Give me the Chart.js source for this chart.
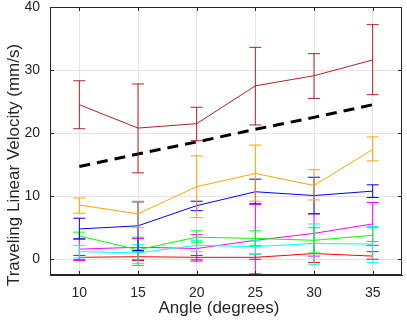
<!DOCTYPE html>
<html>
<head>
<meta charset="utf-8">
<script src="https://cdn.jsdelivr.net/npm/chart.js@4.4.1/dist/chart.umd.min.js"></script>
<style>
  html, body { margin: 0; padding: 0; background: #fff; }
</style>
</head>
<body>
<canvas id="chart" width="407" height="326"></canvas>
<script>
// ---- data ----
const angles = ['10', '15', '20', '25', '30', '35'];
const yTicks = [0, 10, 20, 30, 40];

const darkRedMean = [24.5, 20.8, 21.5, 27.5, 29.1, 31.6];
const darkRedLo   = [20.7, 13.7, 18.8, 21.3, 25.5, 26.1];
const darkRedHi   = [28.3, 27.8, 24.1, 33.6, 32.6, 37.2];

const orangeMean = [8.6, 7.2, 11.5, 13.6, 11.7, 17.4];
const orangeLo   = [7.3, 5.0, 6.6, 9.2, 9.4, 15.6];
const orangeHi   = [9.7, 9.2, 16.4, 18.1, 14.2, 19.4];

const blueMean = [4.8, 5.3, 8.5, 10.7, 10.1, 10.8];
const blueLo   = [3.2, 1.4, 7.7, 8.8, 7.2, 9.8];
const blueHi   = [6.5, 9.1, 9.2, 12.7, 13.0, 11.8];

const greenMean = [3.7, 1.5, 3.5, 3.3, 3.0, 3.8];
const greenLo   = [3.2, -1.0, 2.7, 2.2, 1.0, 2.8];
const greenHi   = [4.3, 3.5, 4.5, 4.5, 5.0, 5.0];

const cyanMean = [1.2, 1.0, 2.2, 2.0, 2.5, 2.4];
const cyanLo   = [0.2, -0.7, 1.2, 0.8, -0.8, -0.5];
const cyanHi   = [2.2, 2.3, 3.0, 2.9, 5.6, 5.2];

const magentaMean = [1.6, 1.9, 1.7, 3.0, 4.1, 5.6];
const magentaLo   = [-0.2, -0.1, -0.3, -2.3, 0.5, 2.2];
const magentaHi   = [3.3, 3.3, 3.9, 8.7, 7.2, 9.0];

const redMean = [0.3, 0.4, 0.3, 0.3, 0.9, 0.5];
const redLo   = [-0.1, -0.2, -0.1, 0.0, -0.5, 0.0];
const redHi   = [0.6, 1.3, 0.6, 0.8, 2.5, 1.2];

const trendLine = [14.7, 16.7, 18.6, 20.6, 22.5, 24.5];

const xTitle = 'Angle (degrees)';
const yTitle = 'Traveling Linear Velocity (mm/s)';

const textColor = '#262626';
const fontFamily = '"Liberation Sans", Arial, Helvetica, sans-serif';

function series(mean, lo, hi, color) {
  return {
    data: mean, errLo: lo, errHi: hi,
    borderColor: color, backgroundColor: color,
    borderWidth: 1, pointRadius: 0, tension: 0, fill: false
  };
}

// error bars, drawn right after each series line
const errorBars = {
  id: 'errorBars',
  afterDatasetDraw(chart, args) {
    const ds = chart.data.datasets[args.index];
    if (!ds.errLo) return;
    const y = chart.scales.y;
    const ctx = chart.ctx;
    const cap = 6;
    ctx.save();
    ctx.strokeStyle = ds.borderColor;
    ctx.lineWidth = 1;
    args.meta.data.forEach(function (pt, j) {
      const x = pt.x;
      const yLo = y.getPixelForValue(ds.errLo[j]);
      const yHi = y.getPixelForValue(ds.errHi[j]);
      ctx.beginPath();
      ctx.moveTo(x, yLo); ctx.lineTo(x, yHi);
      ctx.moveTo(x - cap, yLo); ctx.lineTo(x + cap, yLo);
      ctx.moveTo(x - cap, yHi); ctx.lineTo(x + cap, yHi);
      ctx.stroke();
    });
    ctx.restore();
  }
};

// box, inward ticks and axis titles
const frame = {
  id: 'frame',
  afterDraw(chart) {
    const ctx = chart.ctx;
    const a = chart.chartArea;
    const xs = chart.scales.x, ys = chart.scales.y;
    ctx.save();
    ctx.strokeStyle = textColor;
    ctx.lineWidth = 1;
    ctx.beginPath();
    ctx.rect(a.left + 0.5, a.top + 0.5, a.right - a.left - 1, a.bottom - a.top - 1);
    xs.ticks.forEach(function (t, i) {
      const px = Math.round(xs.getPixelForTick(i)) + 0.5;
      ctx.moveTo(px, a.bottom); ctx.lineTo(px, a.bottom - 4);
      ctx.moveTo(px, a.top); ctx.lineTo(px, a.top + 4);
    });
    ys.ticks.forEach(function (t, i) {
      const py = Math.round(ys.getPixelForTick(i)) + 0.5;
      ctx.moveTo(a.left, py); ctx.lineTo(a.left + 4, py);
      ctx.moveTo(a.right, py); ctx.lineTo(a.right - 4, py);
    });
    ctx.stroke();

    ctx.fillStyle = textColor;
    ctx.font = '17px ' + fontFamily;
    ctx.textAlign = 'center';
    ctx.textBaseline = 'middle';
    ctx.fillText(xTitle, 219, 308);
    ctx.translate(14, 165);
    ctx.rotate(-Math.PI / 2);
    ctx.fillText(yTitle, 0, 0);
    ctx.restore();
  }
};

new Chart(document.getElementById('chart'), {
  type: 'line',
  data: {
    labels: angles,
    datasets: [
      series(darkRedMean, darkRedLo, darkRedHi, '#b22222'),
      series(orangeMean, orangeLo, orangeHi, '#ffa500'),
      series(blueMean, blueLo, blueHi, '#0000ff'),
      series(greenMean, greenLo, greenHi, '#00ff00'),
      series(cyanMean, cyanLo, cyanHi, '#00ffff'),
      series(magentaMean, magentaLo, magentaHi, '#ff00ff'),
      series(redMean, redLo, redHi, '#ff0000'),
      {
        data: trendLine, borderColor: '#000', borderWidth: 3,
        borderDash: [11, 7], pointRadius: 0, fill: false
      }
    ]
  },
  options: {
    responsive: false,
    animation: false,
    layout: { padding: { top: 7, right: 5, left: 0, bottom: 0 } },
    plugins: { legend: { display: false }, tooltip: { enabled: false } },
    scales: {
      x: {
        type: 'category',
        offset: true,
        grid: { offset: false, color: '#e4e4e4', drawTicks: false },
        border: { color: textColor },
        ticks: { color: textColor, font: { family: fontFamily, size: 14 }, padding: 10, maxRotation: 0 },
        afterFit(s) { s.height = 51; s.paddingLeft = 0; s.paddingRight = 0; }
      },
      y: {
        min: -2.5, max: 40,
        grid: { color: '#e4e4e4', drawTicks: false },
        border: { color: textColor },
        ticks: { color: textColor, font: { family: fontFamily, size: 14 }, padding: 10 },
        afterBuildTicks(s) { s.ticks = yTicks.map(function (v) { return { value: v }; }); },
        afterFit(s) { s.width = 50; s.paddingTop = 0; s.paddingBottom = 0; }
      }
    }
  },
  plugins: [errorBars, frame]
});
</script>
</body>
</html>
